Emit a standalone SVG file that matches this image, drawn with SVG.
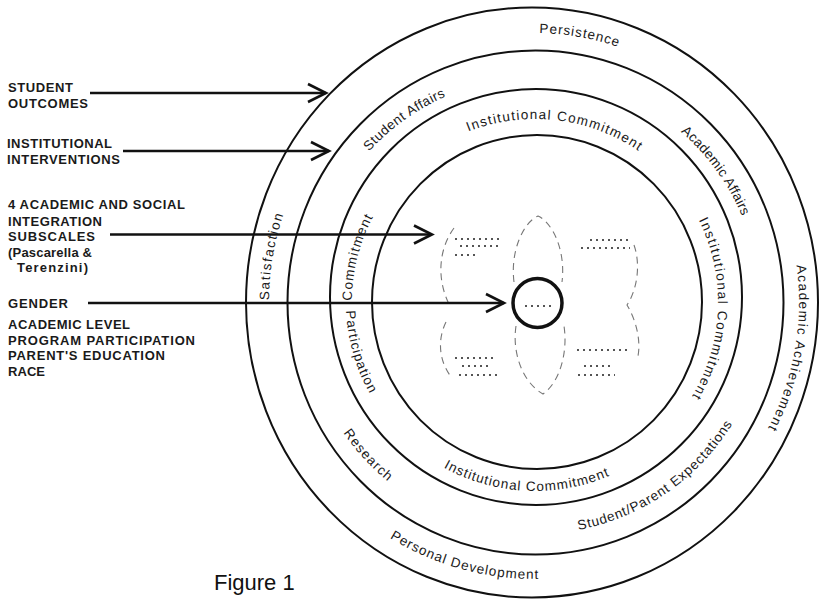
<svg xmlns="http://www.w3.org/2000/svg" xmlns:xlink="http://www.w3.org/1999/xlink" width="819" height="601" viewBox="0 0 819 601">
<style>
.ring{fill:none;stroke:#111;stroke-width:2}
.lbl{font-family:"Liberation Sans",Arial,sans-serif;font-size:13px;font-weight:bold;fill:#1a1a1a}
.rl{font-family:"Liberation Sans",Arial,sans-serif;font-size:13.5px;fill:#1a1a1a}
.arr{fill:none;stroke:#111;stroke-width:2.5}
.faint{fill:none;stroke:#777;stroke-width:1.1;stroke-dasharray:7 5}
.spk{fill:none;stroke:#555;stroke-width:2;stroke-dasharray:2 4}
.fig{font-family:"Liberation Sans",Arial,sans-serif;font-size:22px;fill:#111}
</style>
<defs>
<marker id="vh" markerUnits="userSpaceOnUse" markerWidth="24" markerHeight="24" refX="19" refY="10" orient="auto" viewBox="0 0 24 20">
<path d="M1,1 L19,10 L1,19" fill="none" stroke="#111" stroke-width="2.6"/>
</marker>
<path id="cw1" d="M534,571 A265,269 0 1 1 534,33 A265,269 0 1 1 534,571"/>
<path id="ccw1" d="M535,25 A277,277 0 1 0 535,579 A277,277 0 1 0 535,25"/>
<path id="cw2" d="M535,526 A224,224 0 1 1 535,78 A224,224 0 1 1 535,526"/>
<path id="ccw2" d="M535,70 A232,232 0 1 0 535,534 A232,232 0 1 0 535,70"/>
<path id="cw3" d="M535,485 A183,183 0 1 1 535,119 A183,183 0 1 1 535,485"/>
<path id="ccw3" d="M535,113 A189,189 0 1 0 535,491 A189,189 0 1 0 535,113"/>
</defs>
<rect width="819" height="601" fill="#fff"/>

<g id="rings">
<ellipse id="ring-outer" class="ring" cx="532" cy="302.5" rx="286" ry="295"/>
<ellipse id="ring-2" class="ring" cx="535.5" cy="302.5" rx="248" ry="252"/>
<ellipse id="ring-3" class="ring" cx="536" cy="297" rx="206" ry="208"/>
<ellipse id="ring-4" class="ring" cx="537" cy="302" rx="165" ry="167"/>
</g>

<g id="ring-labels">
<text class="rl"><textPath href="#cw1" startOffset="27.7%" text-anchor="middle" textLength="87" lengthAdjust="spacing">Satisfaction</textPath></text>
<text class="rl"><textPath href="#cw1" startOffset="52.7%" text-anchor="middle" textLength="80" lengthAdjust="spacing">Persistence</textPath></text>
<text class="rl"><textPath href="#cw1" startOffset="77.8%" text-anchor="middle" textLength="168" lengthAdjust="spacing">Academic Achievement</textPath></text>
<text class="rl"><textPath href="#ccw1" startOffset="45.7%" text-anchor="middle" textLength="156" lengthAdjust="spacing">Personal Development</textPath></text>
<text class="rl"><textPath href="#cw2" startOffset="40.1%" text-anchor="middle" textLength="95" lengthAdjust="spacing">Student Affairs</textPath></text>
<text class="rl"><textPath href="#cw2" startOffset="65%" text-anchor="middle" textLength="105" lengthAdjust="spacing">Academic Affairs</textPath></text>
<text class="rl"><textPath href="#ccw2" startOffset="59.6%" text-anchor="middle" textLength="192" lengthAdjust="spacing">Student/Parent Expectations</textPath></text>
<text class="rl"><textPath href="#ccw2" startOffset="36.8%" text-anchor="middle" textLength="66" lengthAdjust="spacing">Research</textPath></text>
<text class="rl"><textPath href="#cw3" startOffset="51.8%" text-anchor="middle" textLength="178" lengthAdjust="spacing">Institutional Commitment</textPath></text>
<text class="rl"><textPath href="#cw3" startOffset="75.6%" text-anchor="middle" textLength="184" lengthAdjust="spacing">Institutional Commitment</textPath></text>
<text class="rl"><textPath href="#ccw3" startOffset="49.2%" text-anchor="middle" textLength="172" lengthAdjust="spacing">Institutional Commitment</textPath></text>
<text class="rl"><textPath href="#cw3" startOffset="28.9%" text-anchor="middle" textLength="87" lengthAdjust="spacing">Commitment</textPath></text>
<text class="rl"><textPath href="#ccw3" startOffset="29.4%" text-anchor="middle" textLength="87" lengthAdjust="spacing">Participation</textPath></text>
</g>

<g id="center">
<path class="faint" d="M514,282 C510,250 524,222 538,216 C552,222 566,250 562,282"/>
<path class="faint" d="M516,326 C512,352 522,382 543,394 C560,382 568,352 564,326"/>
<path class="faint" d="M454,228 C438,250 437,280 449,304"/>
<path class="faint" d="M446,322 C437,340 439,362 452,378"/>
<path class="faint" d="M634,245 C641,265 637,290 627,305 C636,320 641,340 638,356"/>
<path class="spk" d="M455,239 L503,239 M460,246 L500,246 M455,255 L478,255"/>
<path class="spk" d="M590,240 L628,240 M581,248 L630,248"/>
<path class="spk" d="M455,358 L495,358 M462,366 L490,366 M459,375 L500,375"/>
<path class="spk" d="M577,350 L630,350 M584,366 L612,366 M578,375 L615,375"/>
<path class="spk" d="M525,306 L555,306"/>
<circle id="core" cx="537.5" cy="303" r="24.5" fill="none" stroke="#111" stroke-width="3.5"/>
</g>

<g id="node-student-outcomes">
<text class="lbl" x="8" y="92" textLength="65" lengthAdjust="spacing">STUDENT</text>
<text class="lbl" x="8" y="108" textLength="80" lengthAdjust="spacing">OUTCOMES</text>
</g>
<g id="node-institutional-interventions">
<text class="lbl" x="7" y="148" textLength="105" lengthAdjust="spacing">INSTITUTIONAL</text>
<text class="lbl" x="7" y="164" textLength="113" lengthAdjust="spacing">INTERVENTIONS</text>
</g>
<g id="node-integration-subscales">
<text class="lbl" x="8" y="209" textLength="177" lengthAdjust="spacing">4 ACADEMIC AND SOCIAL</text>
<text class="lbl" x="8" y="226" textLength="94" lengthAdjust="spacing">INTEGRATION</text>
<text class="lbl" x="8" y="241" textLength="87" lengthAdjust="spacing">SUBSCALES</text>
<text class="lbl" x="8" y="257" textLength="84" lengthAdjust="spacing">(Pascarella &amp;</text>
<text class="lbl" x="17" y="272" textLength="71" lengthAdjust="spacing">Terenzini)</text>
</g>
<g id="node-background">
<text class="lbl" x="8" y="308" textLength="60" lengthAdjust="spacing">GENDER</text>
<text class="lbl" x="8" y="329" textLength="122" lengthAdjust="spacing">ACADEMIC LEVEL</text>
<text class="lbl" x="8" y="345" textLength="187" lengthAdjust="spacing">PROGRAM PARTICIPATION</text>
<text class="lbl" x="8" y="360" textLength="157" lengthAdjust="spacing">PARENT'S EDUCATION</text>
<text class="lbl" x="8" y="376" textLength="37" lengthAdjust="spacing">RACE</text>
</g>

<g id="connectors">
<line class="arr" x1="90" y1="93" x2="326" y2="93" marker-end="url(#vh)"/>
<line class="arr" x1="123" y1="151" x2="329" y2="151" marker-end="url(#vh)"/>
<line class="arr" x1="110" y1="234.5" x2="432" y2="234.5" marker-end="url(#vh)"/>
<line class="arr" x1="88" y1="303" x2="504" y2="303" marker-end="url(#vh)"/>
</g>

<g id="caption">
<text class="fig" x="214" y="590">Figure 1</text>
</g>
</svg>
